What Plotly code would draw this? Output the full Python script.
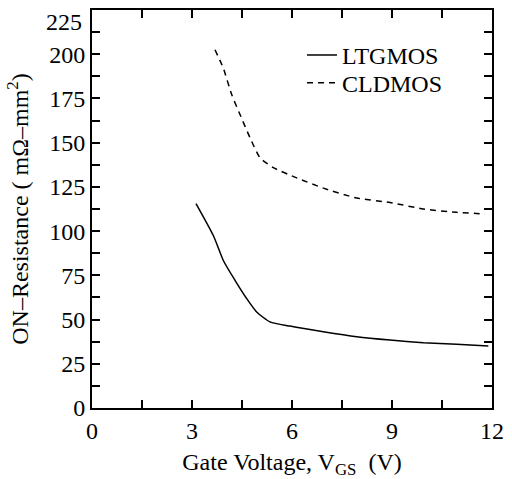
import plotly.graph_objects as go

# LTGMOS (solid)
ltg_x = [3.12, 3.64, 3.94, 4.29, 4.64, 4.94, 5.34, 5.94, 6.94, 7.94, 8.94, 9.94, 10.94, 11.89]
ltg_y = [115.6, 97.5, 83.4, 72.2, 61.9, 54.3, 48.7, 46.3, 43.1, 40.3, 38.4, 36.9, 36.0, 35.0]

# CLDMOS (dashed)
cld_x = [3.69, 3.94, 4.19, 4.44, 4.74, 5.04, 5.44, 6.14, 6.94, 7.94, 8.94, 9.94, 10.94, 11.79]
cld_y = [202.5, 192.1, 177.2, 165.9, 152.8, 141.5, 135.9, 130.1, 124.3, 118.7, 116.2, 112.5, 110.6, 109.7]

# tick positions (labelled majors + unlabelled minors)
x_tick_vals = [0, 1.5, 3, 4.5, 6, 7.5, 9, 10.5, 12]
x_tick_text = ["0", "", "3", "", "6", "", "9", "", "12"]
y_tick_vals = [0, 12.5, 25, 37.5, 50, 62.5, 75, 87.5, 100, 112.5, 125, 137.5,
               150, 162.5, 175, 187.5, 200, 212.5, 225]
y_tick_text = ["0", "", "25", "", "50", "", "75", "", "100", "", "125", "",
               "150", "", "175", "", "200", "", ""]
y_top_label = "225"

FONT = "Liberation Serif, Times New Roman, serif"

fig = go.Figure()
fig.add_trace(go.Scatter(x=ltg_x, y=ltg_y, mode="lines", name="LTGMOS", legend="legend",
                         line=dict(color="black", width=1.5, shape="spline", smoothing=0.6)))
fig.add_trace(go.Scatter(x=cld_x, y=cld_y, mode="lines", name="CLDMOS", legend="legend2",
                         line=dict(color="black", width=1.5, dash="6px,5px", shape="spline", smoothing=0.6)))

axis_common = dict(showgrid=False, zeroline=False, showline=True, linecolor="black", linewidth=2,
                   mirror="allticks", ticks="inside", ticklen=8, tickwidth=2, tickcolor="black",
                   ticklabeloverflow="allow",
                   tickfont=dict(family=FONT, size=24, color="black"))

legend_common = dict(xanchor="left", yanchor="top", bgcolor="rgba(0,0,0,0)",
                     font=dict(family=FONT, size=24, color="black"), itemwidth=30)

fig.update_layout(
    width=512, height=479,
    margin=dict(l=92, r=20, t=8, b=71),
    paper_bgcolor="white", plot_bgcolor="white",
    font=dict(family=FONT, size=24, color="black"),
    showlegend=True,
    legend=dict(x=0.525, y=0.9425, **legend_common),
    legend2=dict(x=0.525, y=0.8725, **legend_common),
    xaxis=dict(range=[0, 12], tickmode="array", tickvals=x_tick_vals, ticktext=x_tick_text,
               title=dict(text="Gate Voltage, V<sub>GS</sub>  (V)", font=dict(family=FONT, size=24), standoff=10),
               **axis_common),
    yaxis=dict(range=[0, 225], tickmode="array", tickvals=y_tick_vals, ticktext=y_tick_text,
               title=dict(text="ON\u2013Resistance ( m\u03a9\u2013mm<sup>2</sup>)", font=dict(family=FONT, size=24), standoff=14),
               **axis_common),
    annotations=[dict(x=0, xref="paper", xanchor="right", xshift=-8,
                      y=y_tick_vals[-1], yref="y", yanchor="middle", yshift=-12,
                      text=y_top_label, showarrow=False,
                      font=dict(family=FONT, size=24, color="black"))],
)

fig.write_html("out.html", config={"displayModeBar": False},
               post_script="document.body.style.margin='0px';document.body.style.padding='0px';")
